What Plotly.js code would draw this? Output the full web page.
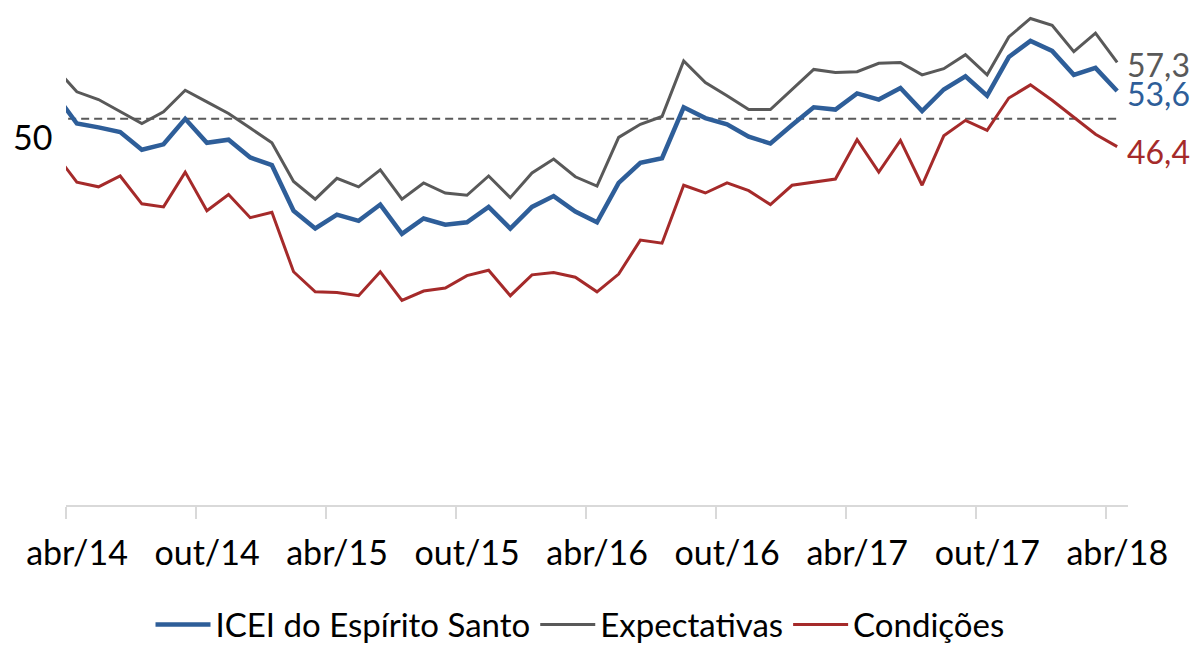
<!DOCTYPE html>
<html>
<head>
<meta charset="utf-8">
<script src="https://cdn.plot.ly/plotly-3.0.1.min.js"></script>
<style>
html,body{margin:0;padding:0;background:#fff;}
#chart{width:1193px;height:645px;}
</style>
</head>
<body>
<div id="chart"></div>
<script>
const months = ['mar/14','abr/14','mai/14','jun/14','jul/14','ago/14','set/14','out/14','nov/14','dez/14',
  'jan/15','fev/15','mar/15','abr/15','mai/15','jun/15','jul/15','ago/15','set/15','out/15','nov/15','dez/15',
  'jan/16','fev/16','mar/16','abr/16','mai/16','jun/16','jul/16','ago/16','set/16','out/16','nov/16','dez/16',
  'jan/17','fev/17','mar/17','abr/17','mai/17','jun/17','jul/17','ago/17','set/17','out/17','nov/17','dez/17',
  'jan/18','fev/18','mar/18','abr/18'];

const icei = [53.2,49.4,48.9,48.3,46.0,46.7,50.0,46.9,47.3,45.0,44.0,38.1,35.8,37.6,36.8,38.9,35.1,37.1,36.3,36.6,
  38.6,35.8,38.6,40.0,38.0,36.6,41.7,44.3,44.9,51.5,50.1,49.3,47.7,46.8,49.2,51.5,51.2,53.3,52.5,54.0,
  51.0,53.8,55.5,53.0,58.0,60.1,58.8,55.7,56.6,53.6];

const expectativas = [56.6,53.5,52.5,51.0,49.4,50.9,53.7,52.2,50.7,48.8,46.9,41.9,39.6,42.3,41.2,43.4,39.6,41.7,40.4,40.1,
  42.6,39.8,43.0,44.8,42.5,41.3,47.6,49.3,50.3,57.5,54.7,53.0,51.2,51.2,53.8,56.4,56.0,56.1,57.2,57.3,
  55.7,56.5,58.3,55.7,60.6,63.0,62.1,58.7,61.1,57.3];

const condicoes = [45.5,41.8,41.2,42.6,39.0,38.6,43.1,38.1,40.2,37.2,37.9,30.2,27.6,27.5,27.1,30.2,26.5,27.7,28.1,29.7,
  30.4,27.1,29.8,30.1,29.5,27.6,29.9,34.3,33.9,41.4,40.4,41.7,40.7,38.9,41.4,41.8,42.2,47.3,43.1,47.2,
  41.4,47.8,49.8,48.5,52.7,54.4,52.4,50.2,48.0,46.4];

const referencia = months.map(() => 50);
const tickLabels = ['abr/14','out/14','abr/15','out/15','abr/16','out/16','abr/17','out/17','abr/18'];

const idx = months.map((m, i) => i);
const tickPos = tickLabels.map(t => months.indexOf(t) - 0.5);

const FONT = 'Lato, "Open Sans", sans-serif';
const BLUE = '#2E5E99', GREY = '#595959', RED = '#A52A2A';

const traces = [
  {x: idx, y: referencia, type: 'scatter', mode: 'lines', showlegend: false, hoverinfo: 'skip',
   line: {color: GREY, width: 2, dash: '8px,5px'}},
  {x: idx, y: expectativas, type: 'scatter', mode: 'lines', name: 'Expectativas', legendrank: 2,
   line: {color: GREY, width: 3}},
  {x: idx, y: condicoes, type: 'scatter', mode: 'lines', name: 'Condições', legendrank: 3,
   line: {color: RED, width: 3}},
  {x: idx, y: icei, type: 'scatter', mode: 'lines', name: 'ICEI do Espírito Santo', legendrank: 1,
   line: {color: BLUE, width: 4.5}}
];

const last = months.length - 1;
const fmt = v => v.toFixed(1).replace('.', ',');

const layout = {
  width: 1193, height: 645,
  margin: {l: 66, r: 65, t: 3, b: 140, autoexpand: false},
  paper_bgcolor: '#fff', plot_bgcolor: '#fff',
  font: {family: FONT, size: 34, color: '#000'},
  showlegend: true,
  legend: {orientation: 'h', x: 0.484, xanchor: 'center', y: -0.238, yanchor: 'middle', itemwidth: 55,
           font: {family: FONT, size: 33, color: '#000'}, traceorder: 'normal'},
  xaxis: {type: 'linear', range: [0.5, 49.5], tickmode: 'array', tickvals: tickPos, ticktext: tickLabels,
          ticks: 'outside', ticklen: 12, tickwidth: 2, tickcolor: '#D9D9D9',
          showline: true, linecolor: '#D9D9D9', linewidth: 2, showgrid: false, zeroline: false,
          ticklabelshift: 11, ticklabelstandoff: 5,
          tickfont: {family: FONT, size: 34, color: '#000'}, fixedrange: true},
  yaxis: {range: [0, 65], visible: true, showticklabels: false, ticks: '', showgrid: false,
          zeroline: false, showline: false, fixedrange: true},
  annotations: [
    {xref: 'paper', yref: 'y', x: 0, y: 50, xanchor: 'right', yanchor: 'middle', xshift: -12, yshift: -18,
     text: '50', showarrow: false, font: {family: FONT, size: 34, color: '#000'}},
    {xref: 'x', yref: 'y', x: idx[last], y: expectativas[last], xanchor: 'left', yanchor: 'middle',
     xshift: 8, yshift: -2, text: fmt(expectativas[last]), showarrow: false,
     font: {family: FONT, size: 32, color: GREY}},
    {xref: 'x', yref: 'y', x: idx[last], y: icei[last], xanchor: 'left', yanchor: 'middle',
     xshift: 8, yshift: -2, text: fmt(icei[last]), showarrow: false,
     font: {family: FONT, size: 32, color: BLUE}},
    {xref: 'x', yref: 'y', x: idx[last], y: condicoes[last], xanchor: 'left', yanchor: 'middle',
     xshift: 8, yshift: -5, text: fmt(condicoes[last]), showarrow: false,
     font: {family: FONT, size: 32, color: RED}}
  ]
};

Plotly.newPlot('chart', traces, layout, {displayModeBar: false, staticPlot: true});
</script>
</body>
</html>
